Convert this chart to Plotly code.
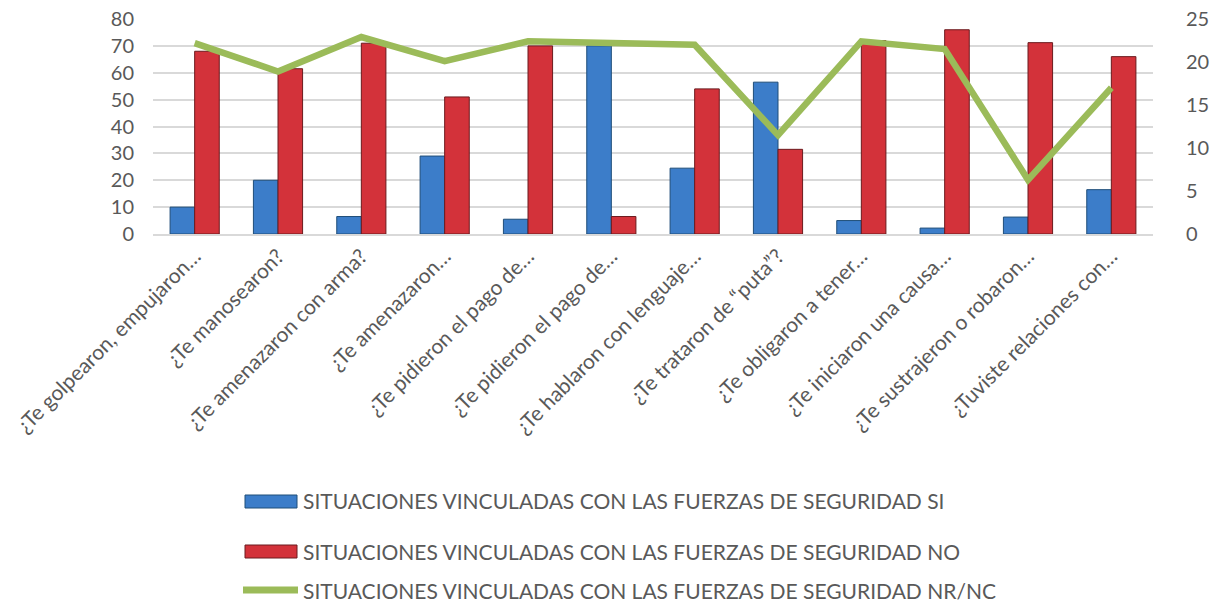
import plotly.graph_objects as go

# ------------------ Data ------------------

categories = [
    "¿Te golpearon, empujaron…",
    "¿Te manosearon?",
    "¿Te amenazaron con arma?",
    "¿Te amenazaron…",
    "¿Te pidieron el pago de…",
    "¿Te pidieron el pago de…",
    "¿Te hablaron con lenguaje…",
    "¿Te trataron de “puta”?",
    "¿Te obligaron a tener…",
    "¿Te iniciaron una causa…",
    "¿Te sustrajeron o robaron…",
    "¿Tuviste relaciones con…",
]

si_values = [10, 20, 6.5, 29, 5.5, 70, 24.5, 56.5, 5, 2.2, 6.3, 16.5]
no_values = [68, 61.5, 71, 51, 70, 6.5, 54, 31.5, 72, 76, 71.2, 66]
nrnc_values = [22.2, 18.9, 22.9, 20.1, 22.4, 22.2, 22.0, 11.5, 22.4, 21.5, 6.3, 17.0]

series_names = [
    "SITUACIONES VINCULADAS CON LAS FUERZAS DE SEGURIDAD SI",
    "SITUACIONES VINCULADAS CON LAS FUERZAS DE SEGURIDAD NO",
    "SITUACIONES VINCULADAS CON LAS FUERZAS DE SEGURIDAD NR/NC",
]

# ------------------ Styling ------------------

FONT = "Lato, 'Open Sans', sans-serif"
GREY = "#595959"
BLUE, BLUE_EDGE = "#3C7DC9", "#1F4E79"
RED, RED_EDGE = "#D3323A", "#6B1A1E"
GREEN = "#9BBB59"

W, H = 1210, 602
ML, MR, MT, MB = 153, 57, 19, 368
PW, PH = W - ML - MR, H - MT - MB


def px_x(x):  # pixel -> paper x
    return (x - ML) / PW


def px_y(y):  # pixel -> paper y
    return (H - MB - y) / PH


# unique x keys (two labels repeat), shown with the original text
x_keys = list(range(len(categories)))

fig = go.Figure()

fig.add_trace(go.Bar(
    x=x_keys, y=si_values, name=series_names[0],
    marker=dict(color=BLUE, line=dict(color=BLUE_EDGE, width=1)),
))
fig.add_trace(go.Bar(
    x=x_keys, y=no_values, name=series_names[1],
    marker=dict(color=RED, line=dict(color=RED_EDGE, width=1)),
))
fig.add_trace(go.Scatter(
    x=x_keys, y=nrnc_values, name=series_names[2],
    mode="lines", yaxis="y2",
    line=dict(color=GREEN, width=6.5),
))

# ------------------ Hand-drawn legend (wide swatches as in the original) ------------------

legend_rows = [501, 551, 590]
swatch_x0, swatch_x1, text_x = 245, 297, 301
shapes, annotations = [], []
for i, (name, row) in enumerate(zip(series_names, legend_rows)):
    if i < 2:
        fill, edge = [(BLUE, BLUE_EDGE), (RED, RED_EDGE)][i]
        shapes.append(dict(
            type="rect", xref="paper", yref="paper",
            x0=px_x(swatch_x0), x1=px_x(swatch_x1),
            y0=px_y(row + 7), y1=px_y(row - 6),
            fillcolor=fill, line=dict(color=edge, width=1),
        ))
    else:
        shapes.append(dict(
            type="line", xref="paper", yref="paper",
            x0=px_x(swatch_x0 - 2), x1=px_x(swatch_x1 + 1),
            y0=px_y(row), y1=px_y(row),
            line=dict(color=GREEN, width=7),
        ))
    annotations.append(dict(
        text=name, xref="paper", yref="paper",
        x=px_x(text_x), y=px_y(row), xanchor="left", yanchor="middle",
        showarrow=False, font=dict(size=21, color=GREY, family=FONT),
    ))

fig.update_layout(
    width=W, height=H,
    margin=dict(l=ML, r=MR, t=MT, b=MB),
    plot_bgcolor="white", paper_bgcolor="white",
    barmode="group", bargap=0.41, bargroupgap=0,
    font=dict(family=FONT, color=GREY, size=18),
    showlegend=False,
    shapes=shapes, annotations=annotations,
    xaxis=dict(
        tickmode="array", tickvals=x_keys, ticktext=categories,
        tickangle=-45, tickfont=dict(size=21, color=GREY),
        showgrid=False, showline=True, linecolor="#D9D9D9", linewidth=1.5,
        range=[-0.5, len(categories) - 0.5], automargin=False,
    ),
    yaxis=dict(
        range=[0, 80], dtick=10, showgrid=True, gridcolor="#D9D9D9",
        gridwidth=1.5, zeroline=False, ticks="", automargin=False,
        tickfont=dict(size=20, color=GREY), ticklabelstandoff=18,
    ),
    yaxis2=dict(
        range=[0, 25], dtick=5, overlaying="y", side="right",
        showgrid=False, zeroline=False, automargin=False,
        tickfont=dict(size=20, color=GREY), ticklabelstandoff=32,
    ),
)

# page body has an 8px default margin; drop it so the figure fills the window
fig.write_html(
    "out.html",
    config={"displayModeBar": False},
    post_script="document.body.style.margin = '0';",
)
